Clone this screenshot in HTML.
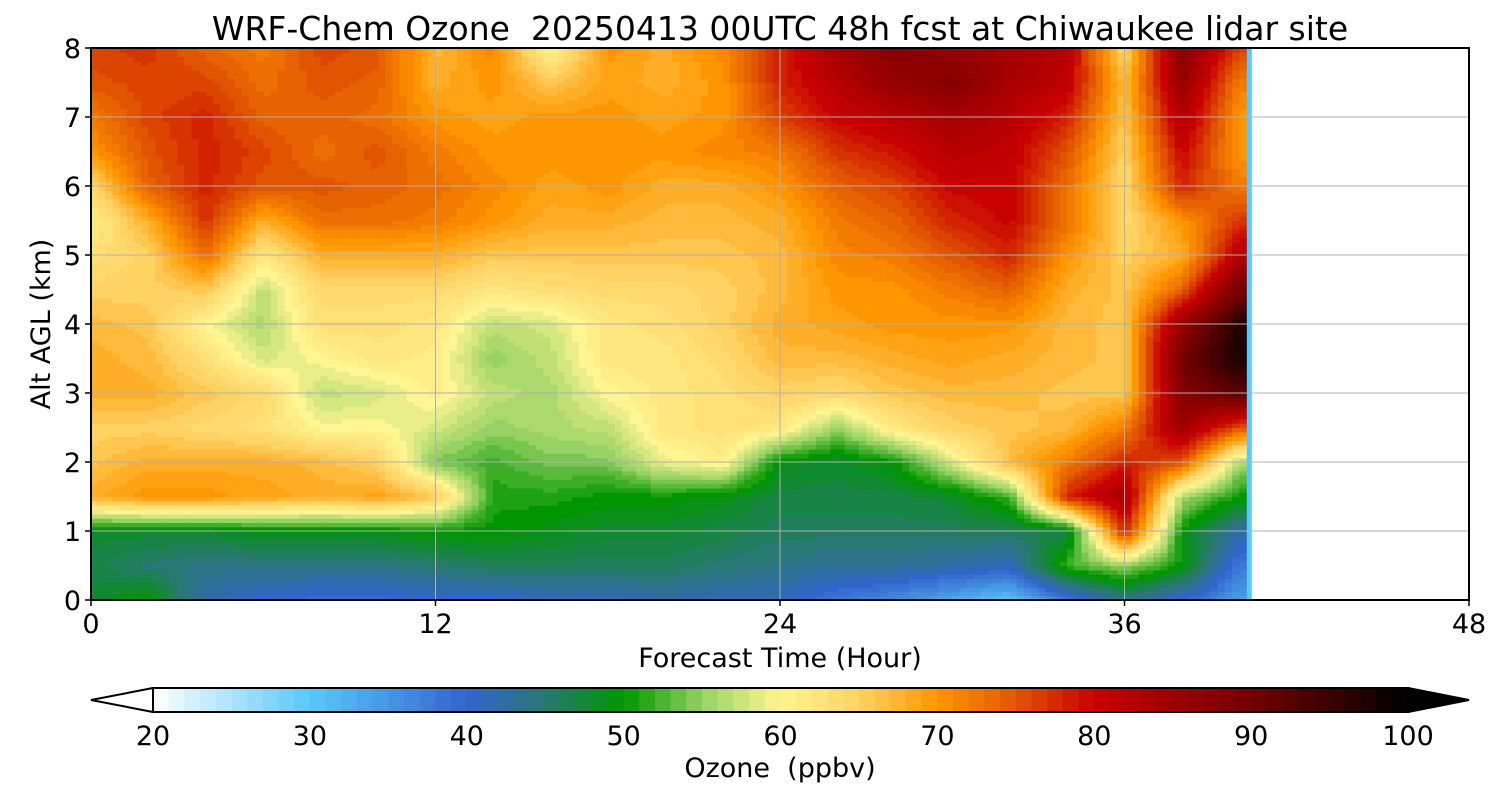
<!DOCTYPE html>
<html><head><meta charset="utf-8"><style>
body{margin:0;background:#fff;width:1500px;height:800px;overflow:hidden;font-family:"Liberation Sans","DejaVu Sans",sans-serif}
svg text{font-family:"DejaVu Sans","Liberation Sans",sans-serif;fill:#000}
</style></head><body>
<svg id="chart" width="1500" height="800" xmlns="http://www.w3.org/2000/svg">
<text x="780" y="40" font-size="33" text-anchor="middle" xml:space="preserve">WRF-Chem Ozone  20250413 00UTC 48h fcst at Chiwaukee lidar site</text>
<g id="field"></g>
<g id="grid"></g>
<rect x="91" y="48" width="1378" height="552" fill="none" stroke="#000" stroke-width="2"/>
<g id="axes"></g>
<text transform="translate(50,324) rotate(-90)" font-size="27" text-anchor="middle">Alt AGL (km)</text>
<text x="780" y="667" font-size="27" text-anchor="middle">Forecast Time (Hour)</text>
<g id="cbar"></g>
<text x="780" y="777" font-size="27" text-anchor="middle" xml:space="preserve">Ozone  (ppbv)</text>
</svg>
<script>
const hours=[0,2,4,6,8,10,12,14,16,18,20,22,24,26,28,30,32,34,36,38,40];
const alts=[0,0.5,1,1.5,2,2.5,3,3.5,4,4.5,5,5.5,6,6.5,7,7.5,8];
const ozone=[
[48,47,48,68,66,65,68,68,67,65,63,61,64,70,72,75,76],
[50,45,48,70,68,65,68,67,66,65,65,68,74,75,76,76,77],
[42,44,48,70,68,64,66,63,60,66,73,77,78,78,78,76,74],
[40,44,49,69,68,63,64,58,56,57,62,68,75,76,74,73,72],
[39,44,49,68,67,60,57,60,63,64,68,73,75,73,74,75,76],
[39,44,49,69,65,60,58,62,63,64,68,73,74,75,73,74,75],
[40,45,50,66,54,58,61,61,62,64,68,72,73,72,70,68,67],
[40,46,50,51,52,55,57,55,57,62,66,70,71,70,69,70,71],
[41,46,49,51,54,56,56,57,58,63,66,68,69,70,70,66,60],
[41,46,48,50,54,57,60,62,62,64,66,68,70,70,70,69,70],
[42,46,48,50,59,62,62,62,63,64,66,67,68,70,69,68,68],
[41,45,47,49,61,63,63,64,65,65,66,67,68,71,70,70,71],
[41,44,46,47,49,62,65,67,68,67,67,68,70,72,76,78,78],
[38,43,46,47,48,55,64,67,69,70,71,72,74,77,80,82,84],
[36,43,46,47,50,62,66,68,70,70,72,74,76,79,82,86,88],
[33,42,46,48,58,65,67,69,70,72,75,78,80,82,84,88,86],
[30,41,46,52,67,66,67,68,70,74,78,80,80,81,82,84,84],
[38,52,47,78,72,67,66,67,67,68,70,73,73,75,78,81,82],
[44,55,78,84,78,72,66,66,66,66,65,64,64,65,66,67,64],
[40,50,50,56,75,85,88,90,86,74,68,70,78,80,83,86,88],
[34,38,42,50,56,75,92,98,97,90,82,77,72,70,70,72,76]];
const xTicks=[0,12,24,36,48];
const yTicks=[0,1,2,3,4,5,6,7,8];
const cbTicks=[20,30,40,50,60,70,80,90,100];
const dataEnd=40.4;

const X0=91,X1=1469,Y0=600,Y1=48;
const xs=h=>X0+(h/48)*(X1-X0);
const ys=a=>Y0-(a/8)*(Y0-Y1);
const stops=[[20,[255,255,255]],[30,[90,200,250]],[40,[50,100,205]],[45,[40,120,115]],[50,[0,150,0]],[55,[150,210,100]],[60,[255,245,145]],[65,[255,210,100]],[70,[255,150,0]],[75,[225,85,0]],[80,[200,0,0]],[90,[115,0,0]],[100,[0,0,0]]];
function color(v){v=Math.max(20,Math.min(100,v));
 for(let i=0;i<stops.length-1;i++){const[a,ca]=stops[i],[b,cb]=stops[i+1];
  if(v<=b){const t=(v-a)/(b-a);return`rgb(${ca.map((c,k)=>Math.round(c+(cb[k]-c)*t)).join(',')})`;}}
 return'rgb(0,0,0)';}
const NS='http://www.w3.org/2000/svg';
function mk(tag,attrs,parent){const e=document.createElementNS(NS,tag);for(const k in attrs)e.setAttribute(k,attrs[k]);parent.appendChild(e);return e;}
function interp(h,a){
 let i=Math.min(hours.length-2,Math.max(0,Math.floor(h/2)));let tx=Math.min(1,(h-hours[i])/(hours[i+1]-hours[i]));
 let j=Math.min(alts.length-2,Math.floor(a/0.5));let ty=(a-alts[j])/0.5;
 const v00=ozone[i][j],v10=ozone[i+1][j],v01=ozone[i][j+1],v11=ozone[i+1][j+1];
 return v00*(1-tx)*(1-ty)+v10*tx*(1-ty)+v01*(1-tx)*ty+v11*tx*ty;}
const field=document.getElementById('field');
const dh=0.25,da=0.0625;
for(let h=0;h<dataEnd-1e-9;h+=dh){const w=Math.min(dh,dataEnd-h);
 for(let a=0;a<8-1e-9;a+=da){
  const v=Math.round(interp(Math.min(h+w/2,40),a+da/2));
  const r=mk('rect',{x:xs(h).toFixed(2),y:ys(a+da).toFixed(2),width:(xs(h+w)-xs(h)+0.6).toFixed(2),height:(ys(a)-ys(a+da)+0.6).toFixed(2),fill:color(v)},field);
  
  
 }}
const edge=mk('rect',{x:xs(dataEnd)-4,y:Y1,width:5,height:Y0-Y1,fill:'rgb(90,200,250)'},field);


const grid=document.getElementById('grid'),axes=document.getElementById('axes');
xTicks.forEach(t=>{const l=mk('line',{x1:xs(t),x2:xs(t),y1:Y1,y2:Y0,stroke:'#b0b0b0','stroke-width':1},grid);
 
 const k=mk('line',{x1:xs(t),x2:xs(t),y1:Y0,y2:Y0+6,stroke:'#000','stroke-width':1.5},axes);
 
 const tx=mk('text',{x:xs(t),y:Y0+33,'font-size':27,'text-anchor':'middle'},axes);tx.textContent=t;
 });
yTicks.forEach(t=>{const l=mk('line',{x1:X0,x2:X1,y1:ys(t),y2:ys(t),stroke:'#b0b0b0','stroke-width':1},grid);
 
 const k=mk('line',{x1:X0-6,x2:X0,y1:ys(t),y2:ys(t),stroke:'#000','stroke-width':1.5},axes);
 
 const tx=mk('text',{x:X0-10,y:ys(t)+10,'font-size':27,'text-anchor':'end'},axes);tx.textContent=t;
 });
const cb=document.getElementById('cbar');
const C0=153,C1=1408,CT=688,CB=712;const cx=v=>C0+(v-20)/80*(C1-C0);
const lt=mk('polygon',{points:`${C0},${CT} ${C0},${CB} 91,700`,fill:'#fff',stroke:'#000','stroke-width':2},cb);

for(let v=20;v<100;v++){const s=mk('rect',{x:cx(v),y:CT,width:cx(v+1)-cx(v)+0.5,height:CB-CT,fill:color(v+0.5)},cb);
 }
const rt=mk('polygon',{points:`${C1},${CT} ${C1},${CB} 1469,700`,fill:'#000',stroke:'#000','stroke-width':2},cb);

const fr=mk('rect',{x:C0,y:CT,width:C1-C0,height:CB-CT,fill:'none',stroke:'#000','stroke-width':2},cb);

cbTicks.forEach(t=>{const tx=mk('text',{x:cx(t),y:745,'font-size':27,'text-anchor':'middle'},cb);tx.textContent=t;
 });
</script>
</body></html>
